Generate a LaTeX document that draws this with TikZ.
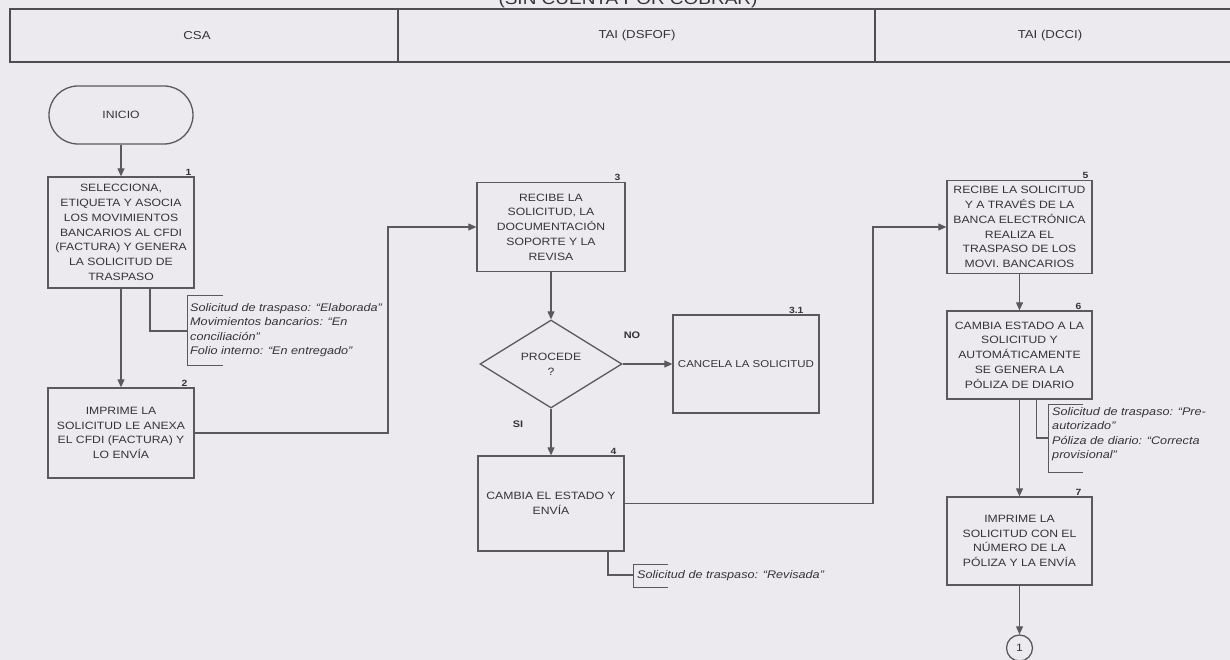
\documentclass[tikz,border=0pt]{standalone}
\usepackage{fontspec}
\setmainfont{Liberation Sans}[FakeStretch=1.15]
\usetikzlibrary{arrows.meta,shapes.geometric}
\definecolor{paper}{RGB}{236,234,238}
\definecolor{ink}{RGB}{52,52,56}
\definecolor{rule}{RGB}{90,90,94}
\definecolor{hdr}{RGB}{78,78,82}

\begin{document}
\begin{tikzpicture}[x=1pt,y=-1pt,
  every node/.style={text=ink},
  boxtext/.style={font=\fontsize{10.6}{14.8}\selectfont},
  proc/.style={draw=rule, line width=1.3pt, fill=paper, align=center, inner sep=0pt, boxtext},
  term/.style={proc, rounded corners=29pt},
  decision/.style={proc, diamond},
  conn/.style={draw=rule, line width=1.1pt},
  flow/.style={conn, -{Triangle[length=8pt,width=7pt]}},
  num/.style={font=\fontsize{9}{10}\selectfont\bfseries, inner sep=1pt, anchor=south east},
  note/.style={font=\fontsize{11}{14.5}\selectfont\itshape, align=left, inner sep=0pt},
  bracket/.style={draw=rule, line width=1pt},
  lane/.style={font=\fontsize{11.5}{13}\selectfont},
  answer/.style={font=\fontsize{9.5}{10}\selectfont\bfseries}
]
\useasboundingbox (0,0) rectangle (1230,660);
\fill[paper] (0,0) rectangle (1230,660);

% title and swimlane header
\node[font=\fontsize{16.5}{18}\selectfont, anchor=base] (title) at (628,4.5) {(SIN CUENTA POR COBRAR)};
\draw[draw=hdr, line width=2pt] (10,9) rectangle (1240,62);
\draw[draw=hdr, line width=1.2pt] (398,9) -- (398,62);
\draw[draw=hdr, line width=1.2pt] (875,9) -- (875,62);
\node[lane] (laneA) at (197,36) {CSA};
\node[lane] (laneB) at (637,36) {TAI (DSFOF)};
\node[lane] (laneC) at (1050,36) {TAI (DCCI)};

% CSA
\node[term, minimum width=144pt, minimum height=58pt] (inicio) at (121,115) {INICIO};
\node[proc, minimum width=146pt, minimum height=111pt] (b1) at (121,232.5)
  {SELECCIONA,\\ETIQUETA Y ASOCIA\\LOS MOVIMIENTOS\\BANCARIOS AL CFDI\\(FACTURA) Y GENERA\\LA SOLICITUD DE\\TRASPASO};
\node[num] at ([xshift=-2pt]b1.north east) {1};
\node[proc, minimum width=146pt, minimum height=90pt] (b2) at (121,433)
  {IMPRIME LA\\SOLICITUD LE ANEXA\\EL CFDI (FACTURA) Y\\LO ENVÍA};
\node[num] at ([xshift=-6pt]b2.north east) {2};

\draw[flow] (inicio) -- (b1);
\draw[flow] (b1) -- (b2);

% status note of step 1
\coordinate (n1link) at (187,331);
\draw[conn] ([xshift=29pt]b1.south) |- (n1link);
\draw[bracket] (223,295) -- (187,295) -- (187,365) -- (223,365);
\node[note, anchor=north west] (n1) at (190,303)
  {Solicitud de traspaso: “Elaborada”\\Movimientos bancarios: “En\\conciliación”\\Folio interno: “En entregado”};

% TAI (DSFOF)
\node[proc, minimum width=148pt, minimum height=89pt] (b3) at (551,227)
  {RECIBE LA\\SOLICITUD, LA\\DOCUMENTACIÓN\\SOPORTE Y LA\\REVISA};
\node[num] at ([xshift=-4pt]b3.north east) {3};
\node[decision, minimum width=142pt, minimum height=88pt] (dec) at (551,364) {PROCEDE\\?};
\node[proc, minimum width=146pt, minimum height=98pt, font=\fontsize{10}{14}\selectfont] (b31) at (746,364) {CANCELA LA SOLICITUD};
\node[num] at ([xshift=-15pt]b31.north east) {3.1};
\node[proc, minimum width=146pt, minimum height=95pt] (b4) at (551,503.5) {CAMBIA EL ESTADO Y\\ENVÍA};
\node[num] at ([xshift=-7pt]b4.north east) {4};
\node[answer] (no) at (632,335) {NO};
\node[answer] (si) at (518,424) {SI};

\coordinate (r2) at (388,433);
\draw[flow] (b2.east) -- (r2) |- (b3.west);
\draw[flow] (b3) -- (dec);
\draw[flow] (dec.east) -- (b31.west);
\draw[flow] (dec.south) -- (b4.north);

% status note of step 4
\coordinate (n4link) at (633,575);
\draw[conn] ([xshift=57pt]b4.south) |- (n4link);
\draw[bracket] (668,564) -- (633,564) -- (633,587) -- (668,587);
\node[note, anchor=west] (n4) at (637,576) {Solicitud de traspaso: “Revisada”};

% TAI (DCCI)
\node[proc, minimum width=145pt, minimum height=93pt] (b5) at (1019.5,227)
  {RECIBE LA SOLICITUD\\Y A TRAVÉS DE LA\\BANCA ELECTRÓNICA\\REALIZA EL\\TRASPASO DE LOS\\MOVI. BANCARIOS};
\node[num] at ([xshift=-3pt]b5.north east) {5};
\node[proc, minimum width=145pt, minimum height=88pt] (b6) at (1019.5,355)
  {CAMBIA ESTADO A LA\\SOLICITUD Y\\AUTOMÁTICAMENTE\\SE GENERA LA\\PÓLIZA DE DIARIO};
\node[num] at ([xshift=-10pt]b6.north east) {6};
\node[proc, minimum width=145pt, minimum height=88pt] (b7) at (1019.5,541)
  {IMPRIME LA\\SOLICITUD CON EL\\NÚMERO DE LA\\PÓLIZA Y LA ENVÍA};
\node[num] at ([xshift=-10pt]b7.north east) {7};
\node[proc, circle, minimum size=26pt] (c1) at (1019.5,648) {1};

\coordinate (r4) at (873,503.5);
\draw[flow] (b4.east) -- (r4) |- (b5.west);
\draw[flow] (b5) -- (b6);
\draw[flow] (b6) -- (b7);
\draw[flow] (b7) -- (c1);

% status note of step 6
\coordinate (n6link) at (1048,438);
\draw[conn] ([xshift=17pt]b6.south) |- (n6link);
\draw[bracket] (1083,404) -- (1048,404) -- (1048,472) -- (1083,472);
\node[note, anchor=north west] (n6) at (1052,407)
  {Solicitud de traspaso: “Pre-\\autorizado”\\Póliza de diario: “Correcta\\provisional”};
\end{tikzpicture}
\end{document}
